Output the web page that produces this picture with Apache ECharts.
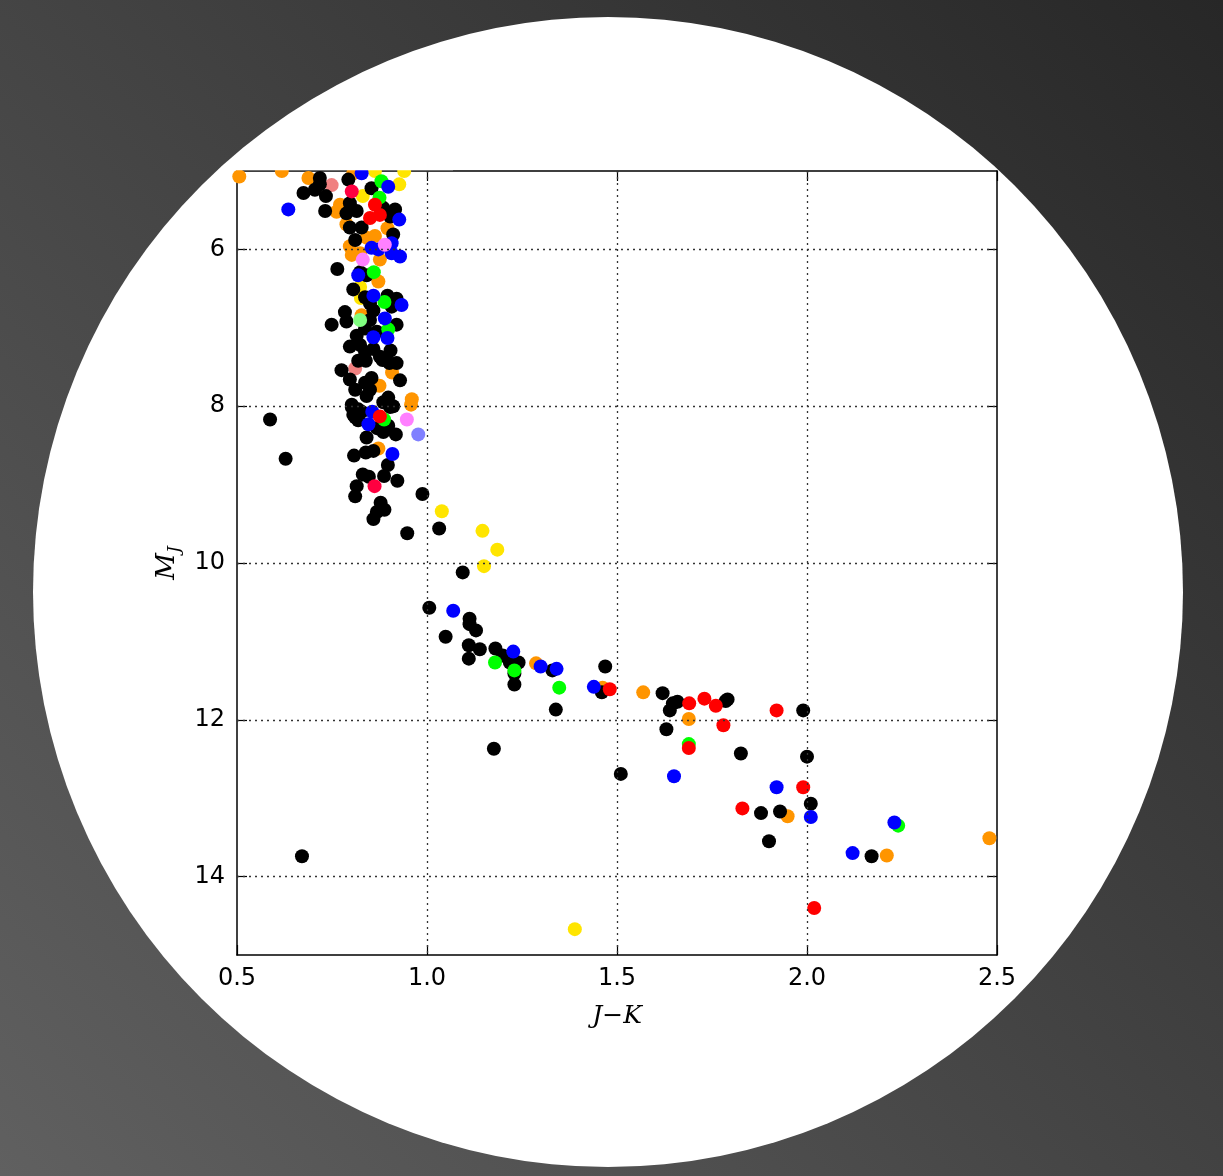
<!DOCTYPE html>
<html>
<head>
<meta charset="utf-8">
<script src="https://cdn.jsdelivr.net/npm/echarts@6/dist/echarts.min.js"></script>
<style>
html,body{margin:0;padding:0;}
#chart{width:1223px;height:1176px;}
</style>
</head>
<body>
<div id="chart"></div>
<script>
// ---- data (J-K, M_J) ----
const xTicks = [0.5, 1.0, 1.5, 2.0, 2.5];
const yTicks = [6, 8, 10, 12, 14];

const blackPts = [
 [0.718,5.09],[0.718,5.17],[0.705,5.24],[0.675,5.28],[0.734,5.32],[0.732,5.51],[0.793,5.11],[0.797,5.41],
 [0.854,5.22],[0.885,5.47],[0.916,5.49],[0.903,5.58],[0.788,5.54],[0.815,5.51],[0.797,5.72],[0.828,5.72],
 [0.911,5.81],[0.811,5.88],
 [0.764,6.25],[0.824,6.29],[0.841,6.33],[0.806,6.51],[0.837,6.61],[0.896,6.59],[0.920,6.63],[0.907,6.73],
 [0.850,6.69],[0.784,6.80],[0.788,6.92],[0.749,6.96],[0.859,6.78],[0.850,6.90],[0.920,6.96],[0.868,7.05],
 [0.815,7.10],[0.837,7.01],[0.797,7.24],[0.824,7.22],[0.837,7.31],[0.859,7.27],[0.904,7.29],[0.876,7.37],
 [0.775,7.54],[0.819,7.42],[0.839,7.42],[0.883,7.41],[0.901,7.45],[0.920,7.45],[0.929,7.67],[0.797,7.66],
 [0.811,7.79],[0.837,7.70],[0.854,7.64],[0.850,7.79],[0.841,7.87],[0.802,7.98],[0.806,8.11],[0.819,8.04],
 [0.885,7.95],[0.911,8.00],[0.898,7.89],[0.811,8.14],[0.898,8.25],[0.841,8.40],[0.885,8.33],[0.918,8.36],
 [0.828,8.07],[0.819,8.18],[0.868,8.28],[0.894,8.26],[0.903,8.01],[0.802,8.01],
 [0.587,8.17],[0.628,8.67],[0.808,8.63],[0.839,8.59],[0.859,8.57],[0.897,8.75],[0.831,8.87],[0.847,8.90],
 [0.887,8.89],[0.922,8.95],[0.815,9.02],[0.811,9.15],[0.988,9.12],[0.878,9.23],[0.868,9.35],[0.888,9.32],
 [0.859,9.44],[0.948,9.62],
 [1.032,9.56],[1.094,10.12],[1.006,10.57],[1.112,10.71],[1.112,10.78],[1.129,10.86],[1.049,10.94],[1.110,11.05],
 [1.139,11.10],[1.110,11.22],[1.180,11.09],[1.199,11.18],[1.218,11.27],[1.241,11.27],[1.230,11.41],[1.230,11.55],
 [1.330,11.37],[1.339,11.87],[1.469,11.32],[1.460,11.65],[1.176,12.37],[1.510,12.69],[1.620,11.66],[1.659,11.77],
 [1.647,11.79],[1.639,11.88],[1.630,12.12],[1.786,11.76],[1.791,11.74],[1.990,11.88],[1.826,12.43],[2.000,12.47],
 [2.010,13.07],[1.879,13.19],[1.929,13.17],[1.900,13.55],[2.170,13.74],[0.671,13.74]
];
const bluePts = [
 [0.635,5.49],[0.828,5.03],[0.898,5.20],[0.927,5.62],[0.907,5.92],[0.854,5.98],[0.872,6.00],[0.907,6.05],
 [0.929,6.09],[0.819,6.33],[0.859,6.59],[0.933,6.71],[0.889,6.88],[0.896,7.13],[0.859,7.12],[0.856,8.07],
 [0.846,8.23],[0.909,8.61],[1.069,10.61],[1.227,11.13],[1.299,11.32],[1.341,11.35],[1.439,11.58],[1.650,12.72],
 [1.920,12.86],[2.010,13.24],[2.230,13.31],[2.120,13.70]
];
const greenPts = [
 [0.880,5.13],[0.875,5.34],[0.860,6.29],[0.888,6.67],[0.898,7.02],[0.887,8.17],[1.179,11.27],[1.348,11.59],
 [1.689,12.31],[2.240,13.35],[1.230,11.37]
];
const lightGreenPts = [[0.824,6.90]];
const redPts = [
 [0.863,5.43],[0.876,5.56],[0.850,5.60],[0.876,8.13],[1.481,11.61],[1.690,11.79],[1.730,11.73],[1.760,11.82],
 [1.780,12.07],[1.920,11.88],[1.689,12.36],[1.990,12.86],[1.830,13.13],[2.019,14.40]
];
const crimsonPts = [[0.802,5.26],[0.862,9.02]];
const orangePts = [
 [0.506,5.07],[0.618,5.00],[0.688,5.09],[0.806,5.03],[0.771,5.43],[0.762,5.52],[0.788,5.68],[0.841,5.85],
 [0.863,5.83],[0.896,5.73],[0.797,5.96],[0.802,6.07],[0.824,6.05],[0.876,6.13],[0.872,6.41],[0.828,6.84],
 [0.908,7.57],[0.875,7.74],[0.960,7.91],[0.958,7.98],[0.872,8.54],[1.287,11.28],[1.462,11.59],[1.569,11.65],
 [1.689,11.99],[1.949,13.23],[2.480,13.51],[2.210,13.73]
];
const yellowPts = [
 [0.863,5.00],[0.940,5.00],[0.831,5.32],[0.927,5.17],[0.824,6.48],[0.826,6.62],[1.039,9.34],[1.146,9.59],
 [1.185,9.83],[1.150,10.04],[1.389,14.67]
];
const salmonPts = [[0.749,5.18],[0.811,7.52]];
const violetPts = [[0.947,8.17],[0.889,5.94],[0.831,6.13]];
const lavenderPts = [[0.977,8.36]];

const gridX = [1.0, 1.5, 2.0];

// ---- chart ----
const chart = echarts.init(document.getElementById('chart'));
const sym = 14;
function sc(name, data, color, z) {
  return {name, type:'scatter', data, symbolSize: sym, z: z||3,
          itemStyle:{color, opacity:1, borderWidth:0}, emphasis:{disabled:true}, animation:false};
}
const axisLineStyle = {show:true, lineStyle:{color:'#000', width:1.5}};
const tickStyle = {show:true, inside:true, length:10, lineStyle:{color:'#000', width:1.2}};
const labelFont = {fontFamily:'DejaVu Sans', fontSize:24, color:'#000'};

const option = {
  animation:false,
  backgroundColor: new echarts.graphic.LinearGradient(0,1,1,0,[
    {offset:0,color:'#606060'},{offset:1,color:'#272727'}]),
  graphic:[
    {type:'circle', z:-10, silent:true, shape:{cx:608, cy:592, r:575}, style:{fill:'#ffffff'}},
    {type:'rect', z:100, silent:true, shape:{x:233, y:157, width:220, height:13.2}, style:{fill:'#ffffff'}}
  ],
  grid:{left:237, top:171, width:760, height:784, show:false},
  xAxis:[
    {type:'value', min:0.5, max:2.5, interval:0.5, position:'bottom',
     axisLine:axisLineStyle, axisTick:tickStyle, splitLine:{show:false},
     axisLabel:Object.assign({margin:12, formatter:v=>v.toFixed(1)}, labelFont),
     name:'J−K', nameLocation:'middle', nameGap:49,
     nameTextStyle:{fontFamily:'DejaVu Serif', fontStyle:'italic', fontSize:25, color:'#000'}},
    {type:'value', min:0.5, max:2.5, interval:0.5, position:'top',
     axisLine:axisLineStyle, axisTick:tickStyle, splitLine:{show:false}, axisLabel:{show:false}}
  ],
  yAxis:[
    {type:'value', min:5, max:15, interval:1, inverse:true, position:'left',
     axisLine:axisLineStyle,
     axisTick:Object.assign({customValues:yTicks}, tickStyle),
     splitLine:{show:false},
     axisLabel:Object.assign({margin:12, customValues:yTicks,
        formatter:v=> (yTicks.indexOf(v)>=0 ? String(v) : '')}, labelFont),
     name:'{m|M}{s|J}', nameLocation:'middle', nameGap:50, nameRotate:90,
     nameTextStyle:{color:'#000', rich:{
        m:{fontFamily:'DejaVu Serif', fontStyle:'italic', fontSize:26, color:'#000', lineHeight:32},
        s:{fontFamily:'DejaVu Serif', fontStyle:'italic', fontSize:17, color:'#000', lineHeight:32, verticalAlign:'bottom'}
     }}},
    {type:'value', min:5, max:15, interval:1, inverse:true, position:'right',
     axisLine:axisLineStyle, axisTick:Object.assign({customValues:yTicks}, tickStyle),
     splitLine:{show:false}, axisLabel:{show:false}}
  ],
  series:[
    {type:'scatter', data:[], z:1, silent:true,
     markLine:{silent:true, symbol:['none','none'], label:{show:false}, animation:false,
       lineStyle:{color:'#333', width:1.3, type:[2,4]},
       emphasis:{disabled:true},
       data: gridX.map(v=>({xAxis:v})).concat(yTicks.map(v=>({yAxis:v})))}},
    sc('orange', orangePts, '#ff9500'),
    sc('yellow', yellowPts, '#ffe500'),
    sc('salmon', salmonPts, '#f08080'),
    sc('black', blackPts, '#000000'),
    sc('lightgreen', lightGreenPts, '#80ff80'),
    sc('green', greenPts, '#00ff00'),
    sc('blue', bluePts, '#0000ff'),
    sc('red', redPts, '#ff0000'),
    sc('crimson', crimsonPts, '#ff0040'),
    sc('violet', violetPts, '#ff80ff'),
    sc('lavender', lavenderPts, '#8080ff')
  ]
};
chart.setOption(option);
</script>
</body>
</html>
